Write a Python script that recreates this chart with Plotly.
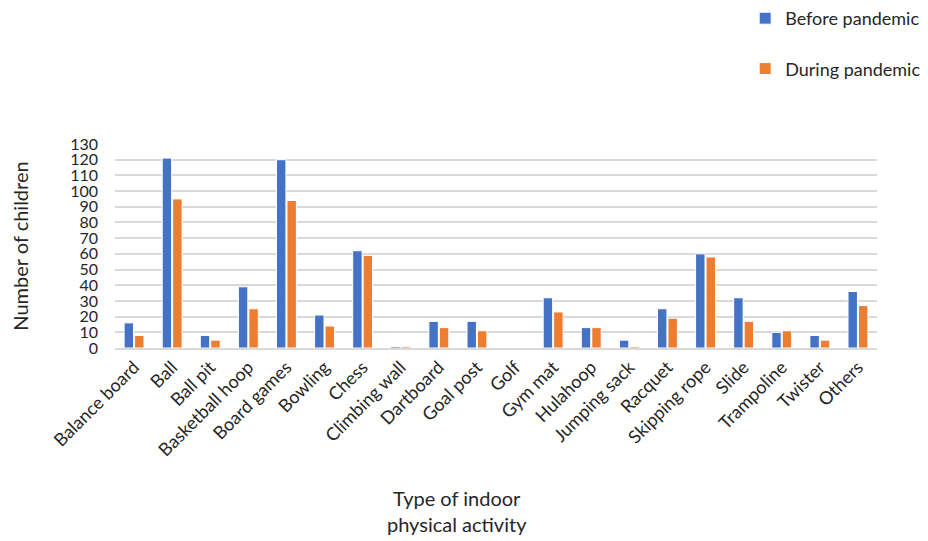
import plotly.graph_objects as go

categories = [
    "Balance board", "Ball", "Ball pit", "Basketball hoop", "Board games",
    "Bowling", "Chess", "Climbing wall", "Dartboard", "Goal post", "Golf",
    "Gym mat", "Hulahoop", "Jumping sack", "Racquet", "Skipping rope",
    "Slide", "Trampoline", "Twister", "Others",
]
before_pandemic = [16, 121, 8, 39, 120, 21, 62, 1, 17, 17, 0, 32, 13, 5, 25, 60, 32, 10, 8, 36]
during_pandemic = [8, 95, 5, 25, 94, 14, 59, 1, 13, 11, 0, 23, 13, 1, 19, 58, 17, 11, 5, 27]
y_ticks = list(range(0, 131, 10))

FONT = "Lato, 'Open Sans', sans-serif"
TEXT = "#262626"

fig = go.Figure()
fig.add_trace(go.Bar(
    name="Before pandemic", x=categories, y=before_pandemic,
    marker=dict(color="#4472C4", line=dict(color="white", width=1)),
    legendgroup="a",
))
fig.add_trace(go.Bar(
    name="During pandemic", x=categories, y=during_pandemic,
    marker=dict(color="#ED7D31", line=dict(color="white", width=1)),
    legendgroup="b",
))

fig.update_layout(
    width=928, height=541,
    margin=dict(l=115, r=51, t=144, b=193),
    paper_bgcolor="white", plot_bgcolor="white",
    barmode="group", bargap=0.45, bargroupgap=0.1,
    font=dict(family=FONT, color=TEXT),
    legend=dict(
        x=0.827, xref="paper", xanchor="left",
        y=1.003, yref="container", yanchor="top",
        font=dict(size=18, color=TEXT),
        tracegroupgap=24, traceorder="grouped",
        itemwidth=30,
    ),
    xaxis=dict(
        tickangle=-45, tickfont=dict(size=18, color=TEXT),
        showline=True, linecolor="#d9d9d9", linewidth=1.5,
        ticks="", showgrid=False,
    ),
    yaxis=dict(
        range=[0, 130], tickvals=y_ticks,
        tickfont=dict(size=16, color=TEXT), ticklabelstandoff=16,
        showgrid=True, gridcolor="#d9d9d9", gridwidth=1.5,
        zeroline=False, ticks="",
        title=dict(text="Number of children", font=dict(size=20, color=TEXT), standoff=36),
    ),
    annotations=[dict(
        text="Type of indoor<br>physical activity",
        xref="paper", yref="paper", x=0.449, y=-0.665,
        xanchor="center", yanchor="top", showarrow=False,
        font=dict(size=20, color=TEXT),
    )],
)

fig.write_html("out.html")
